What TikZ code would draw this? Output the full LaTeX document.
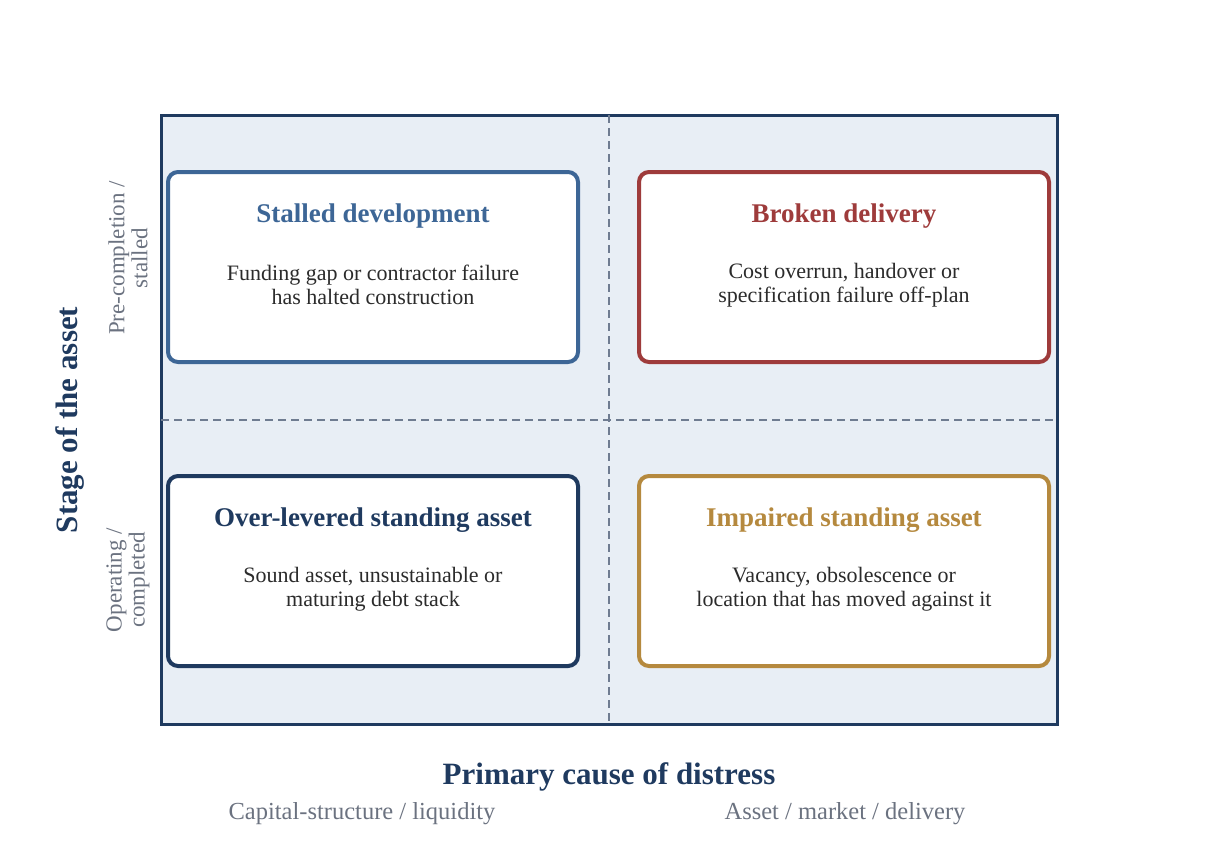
\documentclass[tikz,border=0pt]{standalone}
\usepackage{fontspec}
\setmainfont{Liberation Serif}
\definecolor{navy}{HTML}{1F3A5F}
\definecolor{bgq}{HTML}{E8EEF5}
\definecolor{cblue}{HTML}{3D6696}
\definecolor{cred}{HTML}{9E3B3B}
\definecolor{cgold}{HTML}{B5893E}
\definecolor{gtxt}{HTML}{6B7280}
\definecolor{dashc}{HTML}{6F7C91}
\definecolor{body}{HTML}{2B2B2B}
\begin{document}
\begin{tikzpicture}[x=1pt,y=-1pt,
 box/.style={draw=#1,line width=4pt,rounded corners=10pt,fill=white},
 ttl/.style={font=\fontsize{27}{31}\selectfont\bfseries,text=#1},
 bd/.style={font=\fontsize{22}{24}\selectfont,text=body,align=center},
 side/.style={font=\fontsize{23}{23}\selectfont,text=gtxt,align=center,rotate=90},
 sub/.style={font=\fontsize{24.5}{27}\selectfont,text=gtxt}]
\useasboundingbox (0,0) rectangle (1218,847);
\node[draw=navy,line width=3pt,fill=bgq,minimum width=896pt,minimum height=609pt,inner sep=0] (frame) at (609,419.5) {};
\coordinate (vt) at (609,115); \coordinate (vb) at (609,724);
\coordinate (hl) at (161,420); \coordinate (hr) at (1057,420);
\draw[draw=dashc,line width=2.2pt,dash pattern=on 8pt off 5pt] (vt)--(vb) (hl)--(hr);
\foreach \n/\x/\y/\c in {a/168/172/cblue,b/639/172/cred,c/168/476/navy,d/639/476/cgold}
  \draw[box=\c] (\x,\y) rectangle ++(410,190);
\node[ttl=cblue] (ta) at (373,216) {Stalled development};
\node[bd] (ba) at (373,285) {Funding gap or contractor failure\\has halted construction};
\node[ttl=cred] (tb) at (844,216) {Broken delivery};
\node[bd] (bb) at (844,285) {Cost overrun, handover or\\specification failure off-plan};
\node[ttl=navy] (tc) at (373,520) {Over-levered standing asset};
\node[bd] (bc) at (373,589) {Sound asset, unsustainable or\\maturing debt stack};
\node[ttl=cgold] (td) at (844,520) {Impaired standing asset};
\node[bd] (bdd) at (844,589) {Vacancy, obsolescence or\\location that has moved against it};
\node[font=\fontsize{31}{34}\selectfont\bfseries,text=navy,rotate=90] (yl) at (70,420) {Stage of the asset};
\node[side] (s1) at (128,258) {Pre-completion /\\stalled};
\node[side] (s2) at (128,580) {Operating /\\completed};
\node[font=\fontsize{31}{34}\selectfont\bfseries,text=navy] (xl) at (609,777) {Primary cause of distress};
\node[sub] (x1) at (362,814) {Capital-structure / liquidity};
\node[sub] (x2) at (845,814) {Asset / market / delivery};
\end{tikzpicture}
\end{document}
